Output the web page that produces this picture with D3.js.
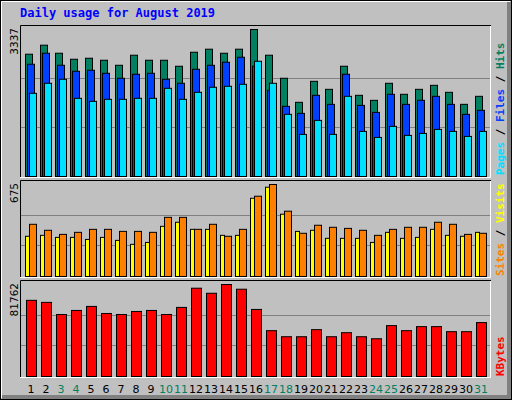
<!DOCTYPE html>
<html><head><meta charset="utf-8">
<script src="https://cdn.jsdelivr.net/npm/d3@7"></script>
<style>body{margin:0;background:#fff}svg{display:block}</style>
</head><body>
<script>
const days = d3.range(1, 32);
const weekend = [3,4,10,11,17,18,24,25,31];
const hits = [2776,2981,2798,2662,2685,2639,2525,2753,2639,2639,2503,2821,2890,2798,2890,3337,2753,2230,1684,2161,1979,2503,1843,1729,2116,1866,1979,2070,1911,1638,1820];
const files = [2548,2798,2525,2389,2412,2343,2230,2321,2343,2207,2116,2434,2525,2594,2707,2503,1957,1593,1433,1843,1638,2321,1615,1456,1866,1638,1729,1820,1638,1411,1502];
const pages = [1888,2116,2207,1775,1706,1752,1752,1775,1775,2002,1752,1911,2025,2048,2093,2616,2116,1411,956,1274,956,1820,1024,887,1138,933,978,1069,1024,910,1024];
const visits = [295,302,287,287,272,287,265,236,250,368,398,346,346,302,302,574,655,457,331,339,280,280,280,250,324,280,287,346,302,295,324];
const sites = [383,339,309,324,346,346,331,331,324,434,434,346,383,295,346,589,675,479,317,376,361,353,339,302,346,361,361,398,383,309,317];
const kbytes = [67687,65890,55108,58702,62296,56007,55108,57804,58702,55108,61398,78469,73977,81762,77571,59601,40732,35341,35341,41631,35341,38935,35341,33544,45225,40732,44326,44326,39834,39834,47920];
const maxLabels = ["3337","675","81762"];

const svg = d3.select("body").append("svg").attr("width",512).attr("height",400);
svg.append("rect").attr("x",0).attr("y",0).attr("width",512).attr("height",400).attr("fill","#c0c0c0");
svg.append("rect").attr("x",0.5).attr("y",0.5).attr("width",511).attr("height",399).attr("fill","none").attr("stroke","#000");
svg.append("path").attr("d","M1.5,398V1.5H510").attr("stroke","#fff").attr("fill","none");
svg.append("rect").attr("x",507).attr("y",2).attr("width",4).attr("height",397).attr("fill","#808080");
svg.append("rect").attr("x",2).attr("y",395).attr("width",509).attr("height",4).attr("fill","#808080");

svg.append("text").attr("x",20).attr("y",17).text("Daily usage for August 2019")
  .attr("font-family","DejaVu Sans Mono").attr("font-weight","bold").attr("font-size",12).attr("fill","#0000ff");

const x = d3.scaleLinear().domain([1,31]).range([25,475]);
const panels = [
  {top:25,bot:178,max:3337},
  {top:180,bot:278,max:675},
  {top:280,bot:378,max:81762}
];
panels.forEach((p,i)=>{
  svg.append("path").attr("d",`M${20.5},${p.bot}V${p.top+0.5}H${491}`).attr("stroke","#000").attr("fill","none");
  svg.append("path").attr("d",`M${490.5},${p.top+1}V${p.bot-0.5}H${20}`).attr("stroke","#fff").attr("fill","none");
  p.y = d3.scaleLinear().domain([0,p.max]).range([p.bot-2, p.top+4]);
  [p.max/3, 2*p.max/3].forEach(v=>{
    svg.append("line").attr("x1",21).attr("x2",490).attr("y1",Math.round(p.y(v))+0.5).attr("y2",Math.round(p.y(v))+0.5).attr("stroke","#808080");
  });
  svg.append("text").attr("transform",`translate(18,${p.top+3}) rotate(-90)`).attr("text-anchor","end")
    .attr("font-family","DejaVu Sans").attr("font-size",10.5).attr("fill","#000").text(maxLabels[i]);
});

function bars(p, data, dx, w, color){
  svg.append("g").selectAll("rect").data(data).join("rect")
    .attr("x",(d,i)=>x(days[i])+dx+0.5).attr("width",w)
    .attr("y",d=>p.y(d)+0.5).attr("height",d=>p.y(0)-p.y(d))
    .attr("fill",color).attr("stroke","#000");
}
bars(panels[0],hits,0,7,"#008060");
bars(panels[0],files,2,7,"#0040ff");
bars(panels[0],pages,4,7,"#00e0ff");
bars(panels[1],visits,0,4,"#ffff00");
bars(panels[1],sites,4,7,"#ff8000");
bars(panels[2],kbytes,1,10,"#ff0000");

function sideLabel(parts, yb){
  const t = svg.append("text").attr("transform",`translate(504,${yb}) rotate(-90)`)
    .attr("font-family","DejaVu Sans Mono").attr("font-weight","bold").attr("font-size",11);
  parts.forEach(([s,c])=>t.append("tspan").text(s).attr("fill",c));
}
sideLabel([["Pages","#00e0ff"],[" / ","#000"],["Files","#0040ff"],[" / ","#000"],["Hits","#008060"]],175);
sideLabel([["Sites","#ff8000"],[" / ","#000"],["Visits","#ffff00"]],276);
sideLabel([["KBytes","#ff0000"]],376);

svg.append("g").selectAll("text").data(days).join("text")
  .attr("x",d=>x(d)+6).attr("y",393).attr("text-anchor","middle")
  .attr("font-family","DejaVu Sans").attr("font-size",11)
  .attr("fill",d=>weekend.includes(d)?"#008060":"#000").text(d=>d);
</script>
</body></html>
